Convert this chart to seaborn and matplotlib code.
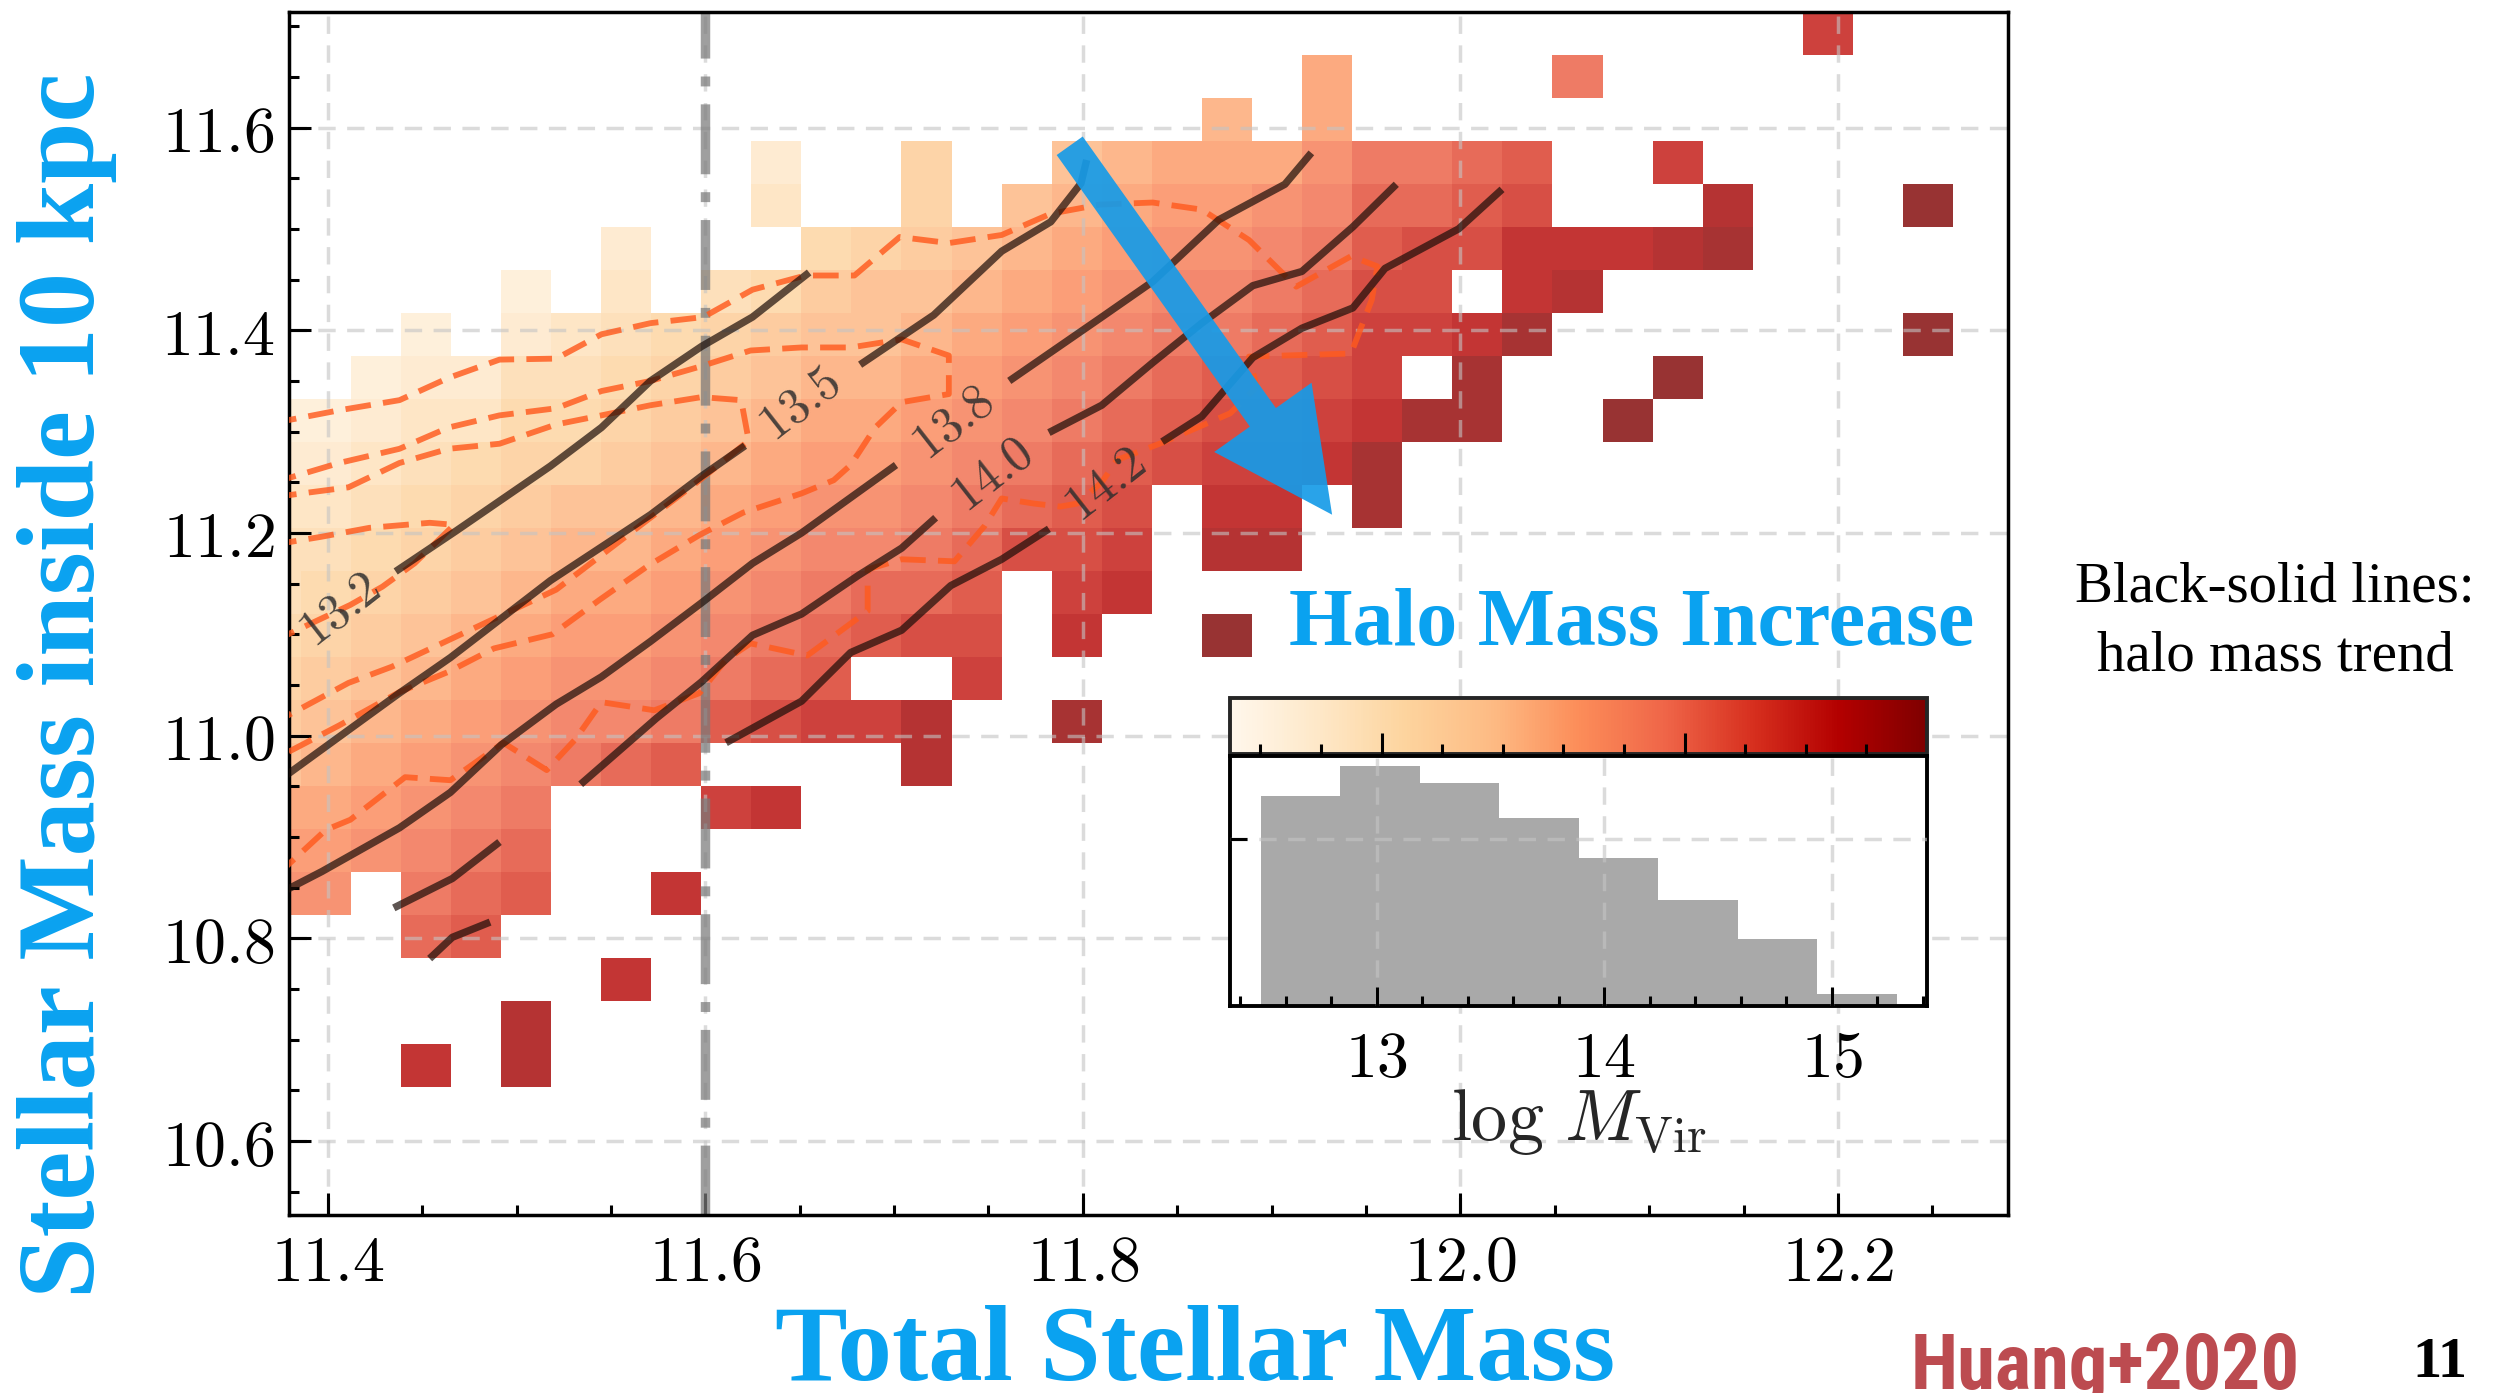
import numpy as np
import matplotlib
matplotlib.use("Agg")
import matplotlib.pyplot as plt
import seaborn as sns
from matplotlib import font_manager as fm
from matplotlib.ticker import MultipleLocator, FuncFormatter, NullFormatter
from matplotlib.colors import Normalize
from matplotlib.cm import ScalarMappable

# ------------------------------------------------------------------
# Mean log halo mass in bins of (total stellar mass, stellar mass < 10 kpc).
# One character per bin, top row first; '.' marks an empty bin.
# ------------------------------------------------------------------
BIN_X0, BIN_DX, N_XBINS = 11.3591, 0.026523, 35
BIN_Y1, BIN_DY, N_YBINS = 11.714, 0.04244, 28
MASS_CODES = "abcdefghijklmnopqrstuvw"          # a = 12.6 ... w = 14.8
MASS_CODE_START, MASS_CODE_STEP = 12.6, 0.1
CMAP_RANGE = (12.5, 14.8)

HALO_ROWS = [
    "." * 31 + "s" + "." * 3,
    "." * 21 + "k....o" + "." * 8,
    "." * 19 + "j.k" + "." * 13,
    "." * 10 + "c..g..ijkkkmoopq..s" + "." * 6,
    "." * 10 + "d..g.ijkllmnppqr...u...w.",
    "." * 7 + "c...fghijklmmnoqrrtttuv" + "." * 5,
    "." * 5 + "b.d.efhiijklmnnoprr.tu" + "." * 8,
    "..." + "b.cdefghiijklmnoopqsstv" + "." * 7 + "w.",
    ".." + "bcceefghijjklmnopqqrs.v...w" + "." * 6,
    "bbcddffghijkklmnopqrrstvv..w" + "." * 7,
    "ccdefgghijkllmnopqrsstv" + "." * 12,
    "ddefghiijklmmnopqr.tt.v" + "." * 12,
    "eefghijjklmnnoprrs.uu" + "." * 14,
    "efghijkklmnoppq.st" + "." * 17,
    "fghijkllmnopqrr.t..w" + "." * 15,
    "ghijklmmnopq..s" + "." * 20,
    "hijklmnnoqrssu..v" + "." * 18,
    "ijklmnopq....u" + "." * 21,
    "kklmno...st" + "." * 24,
    "llmnop" + "." * 29,
    "mm.opq..t" + "." * 26,
    "...pq" + "." * 30,
    "." * 7 + "t" + "." * 27,
    "." * 5 + "u" + "." * 29,
    "...t.u" + "." * 29,
    "." * 35,
    "." * 35,
    "." * 35,
]

# Halo-mass trend lines (log M_vir iso-contours), broken where labelled
TREND_13_2 = [(11.436, 11.162), (11.468, 11.202), (11.518, 11.266), (11.545, 11.304),
              (11.571, 11.350), (11.598, 11.384), (11.625, 11.413), (11.655, 11.457)]
TREND_13_5_A = [(11.370, 10.950), (11.438, 11.042), (11.465, 11.077), (11.518, 11.153),
                (11.571, 11.218), (11.598, 11.256), (11.621, 11.286)]
TREND_13_5_B = [(11.682, 11.366), (11.721, 11.415), (11.757, 11.478), (11.783, 11.507),
                (11.799, 11.545), (11.802, 11.568)]
TREND_13_8_A = [(11.370, 10.840), (11.397, 10.866), (11.438, 10.909), (11.465, 10.944),
                (11.492, 10.991), (11.521, 11.031), (11.545, 11.058), (11.571, 11.093),
                (11.598, 11.131), (11.625, 11.170), (11.651, 11.200), (11.701, 11.267)]
TREND_13_8_B = [(11.761, 11.350), (11.810, 11.413), (11.837, 11.448), (11.872, 11.509),
                (11.890, 11.527), (11.907, 11.544), (11.921, 11.575)]
TREND_14_0_A = [(11.435, 10.830), (11.466, 10.859), (11.491, 10.895)]
TREND_14_0_B = [(11.534, 10.952), (11.574, 11.017), (11.598, 11.053), (11.625, 11.099),
                (11.651, 11.120), (11.681, 11.158), (11.704, 11.185), (11.722, 11.215)]
TREND_14_0_C = [(11.782, 11.299), (11.810, 11.326), (11.837, 11.368), (11.863, 11.407),
                (11.890, 11.444), (11.916, 11.458), (11.943, 11.502), (11.966, 11.544)]
TREND_14_2_A = [(11.454, 10.780), (11.466, 10.801), (11.486, 10.816)]
TREND_14_2_B = [(11.611, 10.993), (11.651, 11.034), (11.677, 11.082), (11.704, 11.104),
                (11.730, 11.148), (11.757, 11.174), (11.782, 11.204)]
TREND_14_2_C = [(11.842, 11.290), (11.863, 11.315), (11.890, 11.373), (11.916, 11.402),
                (11.943, 11.422), (11.960, 11.461), (11.969, 11.470), (11.999, 11.500),
                (12.022, 11.539)]

TREND_LABELS = ["13.2", "13.5", "13.8", "14.0", "14.2"]
TREND_LABEL_X = [11.4065, 11.6504, 11.7311, 11.7520, 11.8121]
TREND_LABEL_Y = [11.1239, 11.3272, 11.3085, 11.2571, 11.2472]

# Galaxy number-density contours
DENSITY_OUTER = [(11.370, 11.308), (11.406, 11.321), (11.438, 11.331), (11.464, 11.353),
                 (11.491, 11.371), (11.521, 11.372), (11.545, 11.396), (11.571, 11.407),
                 (11.599, 11.413), (11.625, 11.440), (11.653, 11.454), (11.679, 11.454),
                 (11.703, 11.492), (11.729, 11.486), (11.757, 11.494), (11.783, 11.515),
                 (11.809, 11.524), (11.837, 11.526), (11.863, 11.519), (11.888, 11.489),
                 (11.913, 11.443), (11.942, 11.473), (11.956, 11.463), (11.953, 11.430),
                 (11.942, 11.377), (11.888, 11.374), (11.892, 11.344), (11.878, 11.318),
                 (11.842, 11.289), (11.818, 11.272), (11.810, 11.250), (11.797, 11.229),
                 (11.788, 11.226), (11.774, 11.229), (11.757, 11.234), (11.748, 11.207),
                 (11.732, 11.172), (11.704, 11.174), (11.686, 11.164), (11.686, 11.123),
                 (11.654, 11.079), (11.624, 11.091), (11.611, 11.075), (11.597, 11.042),
                 (11.573, 11.025), (11.545, 11.033), (11.531, 10.996), (11.516, 10.966),
                 (11.493, 10.993), (11.465, 10.956), (11.441, 10.959), (11.412, 10.917),
                 (11.399, 10.907), (11.370, 10.857)]
DENSITY_MID = [(11.370, 11.249), (11.406, 11.269), (11.438, 11.283), (11.464, 11.304),
               (11.491, 11.316), (11.521, 11.323), (11.545, 11.340), (11.571, 11.350),
               (11.597, 11.364), (11.624, 11.380), (11.651, 11.383), (11.677, 11.383),
               (11.704, 11.391), (11.729, 11.375), (11.729, 11.337), (11.704, 11.329),
               (11.690, 11.304), (11.677, 11.267), (11.668, 11.252), (11.651, 11.239),
               (11.620, 11.220), (11.597, 11.198), (11.570, 11.168), (11.544, 11.134),
               (11.519, 11.100), (11.488, 11.086), (11.464, 11.063), (11.438, 11.043),
               (11.406, 11.010), (11.370, 10.975)]
DENSITY_INNER = [(11.370, 11.235), (11.411, 11.245), (11.438, 11.269), (11.464, 11.283),
                 (11.491, 11.288), (11.521, 11.307), (11.545, 11.316), (11.571, 11.326),
                 (11.598, 11.334), (11.619, 11.331), (11.623, 11.291), (11.597, 11.252),
                 (11.521, 11.144), (11.434, 11.068), (11.411, 11.052), (11.370, 11.011)]
DENSITY_CORE = [(11.370, 11.188), (11.396, 11.196), (11.422, 11.205), (11.454, 11.210),
                (11.467, 11.208), (11.446, 11.170), (11.429, 11.147), (11.412, 11.129),
                (11.370, 11.092)]

ARROW_TAIL = (11.793, 11.582)
ARROW_HEAD = (11.932, 11.218)

# Halo mass distribution of the sample
HIST_EDGES = [12.49, 12.839, 13.189, 13.538, 13.887, 14.237, 14.586, 14.936, 15.285]
HIST_COUNTS = [630, 720, 670, 564, 443, 318, 200, 35]

X_LIM = (11.3795, 12.29)
Y_LIM = (10.527, 11.714)
HIST_XLIM = (12.356, 15.418)
HIST_YLIM = (0, 750)

BLUE = "#0aa2f0"
ORANGE = "#ff5a1e"

# ------------------------------------------------------------------
sns.set_style("white")
plt.rcParams["font.family"] = ["DejaVu Sans"]
plt.rcParams["mathtext.fontset"] = "cm"
plt.rcParams["xtick.bottom"] = True
plt.rcParams["ytick.left"] = True


def first_font(cands, fallback):
    for name in cands:
        try:
            fm.findfont(fm.FontProperties(family=name), fallback_to_default=False)
            return name
        except Exception:
            continue
    return fallback


SERIF = first_font(["Liberation Serif", "DejaVu Serif"], "DejaVu Serif")
NARROW = first_font(["Liberation Sans Narrow", "Roboto Condensed", "Liberation Sans"], "DejaVu Sans")

W, H, DPI = 2496, 1393, 100
fig = plt.figure(figsize=(W / DPI, H / DPI), dpi=DPI)
fig.patch.set_facecolor("white")


def frac_box(x0, y0, x1, y1):
    return [x0 / W, 1 - y1 / H, (x1 - x0) / W, (y1 - y0) / H]


ax = fig.add_axes(frac_box(289, 12, 2008, 1215))

# binned halo mass map
lut = {ch: MASS_CODE_START + i * MASS_CODE_STEP for i, ch in enumerate(MASS_CODES)}
grid = np.array([[lut.get(ch, np.nan) for ch in row.ljust(N_XBINS, ".")[:N_XBINS]]
                 for row in HALO_ROWS])
grid = np.ma.masked_invalid(grid)
x_edges = BIN_X0 + BIN_DX * np.arange(N_XBINS + 1)
y_edges = BIN_Y1 - BIN_DY * np.arange(N_YBINS + 1)
ax.pcolormesh(x_edges, y_edges, grid, cmap="OrRd", vmin=CMAP_RANGE[0], vmax=CMAP_RANGE[1],
              alpha=0.8, edgecolors="none", linewidth=0, antialiased=False, zorder=1)

ax.set_axisbelow("line")
ax.grid(True, which="major", color="#c4c4c4", alpha=0.6, linestyle=(0, (5, 3.3)), linewidth=2.5)

ax.axvline(11.6, color="#7a7a7a", alpha=0.72, lw=6.8, dashes=(7.4, 1.9, 1.05, 1.9), zorder=2)

for seg in (DENSITY_OUTER, DENSITY_MID, DENSITY_INNER, DENSITY_CORE):
    xs, ys = zip(*seg)
    ax.plot(xs, ys, color=ORANGE, alpha=0.82, lw=4.2, dashes=(4.4, 2.1), zorder=3)

for seg in (TREND_13_2, TREND_13_5_A, TREND_13_5_B, TREND_13_8_A, TREND_13_8_B,
            TREND_14_0_A, TREND_14_0_B, TREND_14_0_C, TREND_14_2_A, TREND_14_2_B, TREND_14_2_C):
    xs, ys = zip(*seg)
    ax.plot(xs, ys, color="#1a0d08", alpha=0.7, lw=5.3, solid_capstyle="butt", zorder=4)

for txt, lx, ly in zip(TREND_LABELS, TREND_LABEL_X, TREND_LABEL_Y):
    ax.text(lx, ly, f"${txt}$", rotation=38, rotation_mode="anchor", ha="center", va="center",
            fontsize=36, color="#2e2e2e", alpha=0.85, zorder=4, clip_on=True)

ax.annotate("", xy=ARROW_HEAD, xytext=ARROW_TAIL,
            arrowprops=dict(arrowstyle="simple,head_length=8.6,head_width=8.6,tail_width=2.3",
                            mutation_scale=10, color="#169be8", alpha=0.92, lw=0,
                            shrinkA=0, shrinkB=0), zorder=5)

ax.set_xlim(*X_LIM)
ax.set_ylim(*Y_LIM)
ax.xaxis.set_major_locator(MultipleLocator(0.2))
ax.xaxis.set_minor_locator(MultipleLocator(0.05))
ax.yaxis.set_major_locator(MultipleLocator(0.2))
ax.yaxis.set_minor_locator(MultipleLocator(0.05))
tick_fmt = FuncFormatter(lambda v, _: rf"${v:.1f}$")
ax.xaxis.set_major_formatter(tick_fmt)
ax.yaxis.set_major_formatter(tick_fmt)
ax.tick_params(which="both", direction="in", bottom=True, left=True, top=False, right=False,
               width=2.2, colors="k")
ax.tick_params(which="major", length=15.5, labelsize=46)
ax.tick_params(axis="x", which="major", pad=12)
ax.tick_params(axis="y", which="major", pad=10)
ax.tick_params(which="minor", length=7.5)
for s in ax.spines.values():
    s.set_linewidth(2.5)
    s.set_color("k")

# colour bar of the halo mass scale
cax = fig.add_axes(frac_box(1230, 698, 1927, 754))
sm = ScalarMappable(norm=Normalize(*CMAP_RANGE), cmap="OrRd")
cb = fig.colorbar(sm, cax=cax, orientation="horizontal")
cax.xaxis.set_ticks([13, 14])
cax.xaxis.set_ticks(np.arange(12.6, 14.75, 0.2), minor=True)
cax.set_axisbelow(False)
cax.tick_params(which="both", direction="in", bottom=True, top=False, labelbottom=False,
                width=2.2, colors="k")
cax.tick_params(which="major", length=15)
cax.tick_params(which="minor", length=7.5)
cb.outline.set_linewidth(2.8)

# inset histogram of halo masses
hax = fig.add_axes(frac_box(1230, 756, 1927, 1006))
hax.set_facecolor("white")
centers = 0.5 * (np.array(HIST_EDGES[:-1]) + np.array(HIST_EDGES[1:]))
sns.histplot(x=centers, weights=HIST_COUNTS, bins=HIST_EDGES, color="#a9a9a9", alpha=1.0,
             edgecolor="none", linewidth=0, ax=hax)
hax.set_xlim(*HIST_XLIM)
hax.set_ylim(*HIST_YLIM)
hax.set_axisbelow(False)
hax.grid(True, which="major", color="#c4c4c4", alpha=0.6, linestyle=(0, (5, 3.3)), linewidth=2.5)
hax.xaxis.set_major_locator(MultipleLocator(1))
hax.xaxis.set_minor_locator(MultipleLocator(0.2))
hax.xaxis.set_major_formatter(FuncFormatter(lambda v, _: rf"${v:.0f}$"))
hax.set_yticks([500])
hax.yaxis.set_major_formatter(NullFormatter())
hax.tick_params(which="both", direction="in", bottom=True, left=True, top=False, right=False,
                width=2.2, colors="k")
hax.tick_params(axis="x", which="major", length=14, labelsize=46, pad=16)
hax.tick_params(axis="x", which="minor", length=7)
hax.tick_params(axis="y", which="major", length=12)
hax.set_ylabel("")
hax.set_xlabel(r"$\log\,M_{\rm Vir}$", fontsize=52)
hax.xaxis.set_label_coords(0.5, (1006 - 1122) / 250)
hax.xaxis.label.set_va("center")
for s in hax.spines.values():
    s.set_linewidth(2.8)
    s.set_color("k")

# annotations around the panel
t_halo = fig.text(1631.5 / W, 1 - 645 / H, "Halo Mass Increase", ha="center", va="baseline",
                  color=BLUE, family=SERIF, weight="bold", fontsize=60)
t_ylab = fig.text(67 / W, 1 - 685 / H, "Stellar Mass inside 10 kpc", rotation=90,
                  ha="center", va="center", color=BLUE, family=SERIF, weight="bold", fontsize=80)
t_xlab = fig.text(1195 / W, 1 - 1390 / H, "Total Stellar Mass", ha="center", va="baseline",
                  color=BLUE, family=SERIF, weight="bold", fontsize=80)
t_note1 = fig.text(2275 / W, 1 - 602 / H, "Black-solid lines:", ha="center", va="baseline",
                   color="black", family=SERIF, fontsize=40)
t_note2 = fig.text(2275 / W, 1 - 671 / H, "halo mass trend", ha="center", va="baseline",
                   color="black", family=SERIF, fontsize=40)
t_ref = fig.text(2105 / W, 1 - 1331 / H, "Huang+2020", ha="center", va="top",
                 color="#bc4b50", family=NARROW, weight="bold", fontsize=60)
t_page = fig.text(2440 / W, 1 - 1377 / H, "11", ha="center", va="baseline",
                  color="black", family=SERIF, weight="bold", fontsize=42)

fig.canvas.draw()
rend = fig.canvas.get_renderer()


def fit(t, target, vertical=False):
    bb = t.get_window_extent(rend)
    size = bb.height if vertical else bb.width
    t.set_fontsize(t.get_fontsize() * target / size)


fit(t_halo, 685)
fit(t_ylab, 1226, vertical=True)
fit(t_xlab, 840)
fit(t_note1, 399)
t_note2.set_fontsize(t_note1.get_fontsize())
fit(t_ref, 390)

# top of the capitals of the x label sits just below the panel
em_px = t_xlab.get_fontsize() * DPI / 72
t_xlab.set_position((1195 / W, 1 - (1308 + 0.66 * em_px) / H))

fig.savefig("out.png", dpi=DPI)
